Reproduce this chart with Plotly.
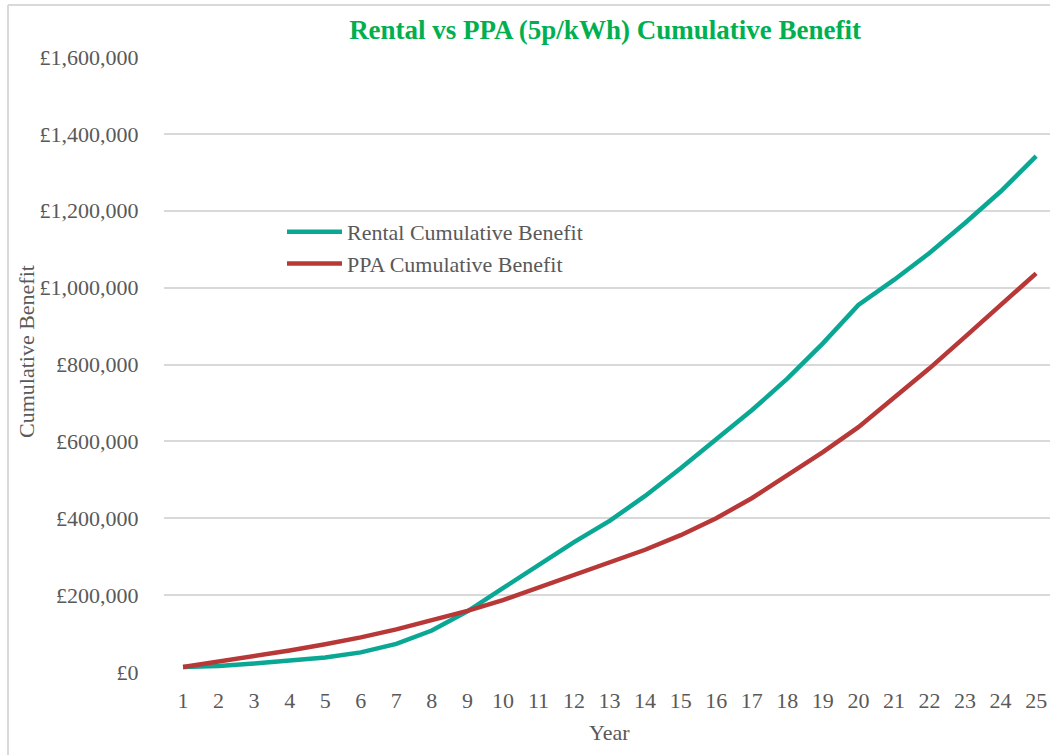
import plotly.graph_objects as go

years = list(range(1, 26))
rental = [13000, 15500, 22000, 29000, 38000, 51000, 73000, 108000, 158000, 218000,
          278000, 338000, 393000, 458000, 530000, 604000, 681000, 763000, 855000, 955000,
          1020000, 1090000, 1168000, 1250000, 1342000]
ppa = [13000, 27000, 40000, 56000, 72000, 90000, 111000, 135000, 159000, 187000,
       220000, 252000, 284000, 318000, 356000, 400000, 452000, 511000, 572000, 637000,
       712000, 790000, 872000, 953000, 1037000]
y_ticks = [0, 200000, 400000, 600000, 800000, 1000000, 1200000, 1400000, 1600000]
y_tick_labels = ["£0", "£200,000", "£400,000", "£600,000", "£800,000",
                 "£1,000,000", "£1,200,000", "£1,400,000", "£1,600,000"]

FONT = "Liberation Serif"
TXT = "#595959"
GRID = "#D9D9D9"

fig = go.Figure()
fig.add_trace(go.Scatter(x=years, y=rental, mode="lines", name="Rental Cumulative Benefit",
                         legendgroup="a",
                         line=dict(color="#0AA894", width=4.5)))
fig.add_trace(go.Scatter(x=years, y=ppa, mode="lines", name="PPA Cumulative Benefit",
                         legendgroup="b",
                         line=dict(color="#B83838", width=4.5)))

W, H = 1050, 755
L, R, T, B = 164, 0, 57, 83
pw = W - L - R
ph = H - T - B

def px(x):
    return (x - L) / pw

def py(y):
    return (H - B - y) / ph

fig.update_layout(
    width=W, height=H,
    margin=dict(l=L, r=R, t=T, b=B),
    paper_bgcolor="white", plot_bgcolor="white",
    font=dict(family=FONT, color=TXT, size=20),
    title=dict(text="<b>Rental vs PPA (5p/kWh) Cumulative Benefit</b>",
               x=605 / W, xanchor="center", y=1 - 30 / H, yanchor="middle",
               font=dict(family=FONT, size=27, color="#00B050")),
    showlegend=True,
    legend=dict(x=px(282), y=py(211), xanchor="left", yanchor="top",
                bgcolor="rgba(0,0,0,0)", font=dict(family=FONT, size=22, color=TXT),
                tracegroupgap=0, itemwidth=55),
    xaxis=dict(range=[0.465, 25.39], tickmode="array", tickvals=years,
               ticktext=[str(y) for y in years], showgrid=False,
               showline=False, zeroline=False,
               ticks="outside", ticklen=9, tickcolor="rgba(0,0,0,0)",
               tickfont=dict(family=FONT, size=22, color=TXT), fixedrange=True),
    yaxis=dict(range=[0, 1600000], tickmode="array", tickvals=y_ticks,
               ticktext=y_tick_labels, showgrid=True, gridcolor=GRID, gridwidth=2,
               zeroline=False, showline=False,
               ticks="outside", ticklen=20, tickcolor="rgba(0,0,0,0)",
               tickfont=dict(family=FONT, size=22, color=TXT), fixedrange=True),
    annotations=[
        dict(text="Year", x=px(609), y=py(732), xref="paper", yref="paper",
             showarrow=False, xanchor="center", yanchor="middle",
             font=dict(family=FONT, size=22, color=TXT)),
        dict(text="Cumulative Benefit", x=px(27), y=py(352), xref="paper", yref="paper",
             showarrow=False, xanchor="center", yanchor="middle", textangle=-90,
             font=dict(family=FONT, size=22, color=TXT)),
    ],
    shapes=[
        dict(type="line", xref="paper", yref="paper", x0=px(8), x1=px(8), y0=py(5), y1=py(760),
             line=dict(color=GRID, width=2)),
        dict(type="line", xref="paper", yref="paper", x0=px(8), x1=px(1060), y0=py(5), y1=py(5),
             line=dict(color=GRID, width=2)),
    ],
)

fig.write_html("out.html",
               config={"displayModeBar": False},
               post_script="document.body.style.margin='0';document.body.style.overflow='hidden';")
